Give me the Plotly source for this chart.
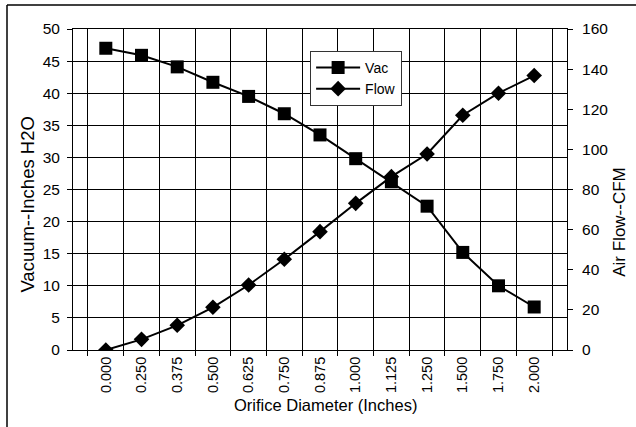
import plotly.graph_objects as go

diameters = ["0.000", "0.250", "0.375", "0.500", "0.625", "0.750", "0.875",
             "1.000", "1.125", "1.250", "1.500", "1.750", "2.000"]
vac = [47.0, 45.9, 44.1, 41.7, 39.5, 36.8, 33.5, 29.8, 26.2, 22.4, 15.2, 10.0, 6.7]
flow = [0.0, 5.3, 12.3, 21.3, 32.4, 45.2, 59.0, 73.1, 86.4, 97.7, 117.0, 128.0, 136.8]

FAM = "Liberation Sans, Arial, sans-serif"
font = dict(family=FAM, size=15, color="black")

fig = go.Figure()
fig.add_trace(go.Scatter(
    x=diameters, y=vac, name="Vac", mode="lines+markers",
    line=dict(color="black", width=2),
    marker=dict(symbol="square", size=13, color="black"),
    yaxis="y"))
fig.add_trace(go.Scatter(
    x=diameters, y=flow, name="Flow", mode="lines+markers",
    line=dict(color="black", width=2),
    marker=dict(symbol="diamond", size=12, color="black"),
    yaxis="y2"))

fig.update_layout(
    width=636, height=427,
    margin=dict(l=73, r=69, t=29, b=77),
    paper_bgcolor="white", plot_bgcolor="white",
    font=font,
    showlegend=True,
    legend=dict(x=0.48, y=0.932, xanchor="left", yanchor="top",
                bgcolor="white", bordercolor="#333333", borderwidth=1,
                font=dict(family=FAM, size=14), tracegroupgap=0,
                itemwidth=44, entrywidth=72, entrywidthmode="pixels"),
    xaxis=dict(type="category", tickson="boundaries", showgrid=True,
               gridcolor="black", gridwidth=1, ticks="outside", ticklen=5,
               tickcolor="black", showline=True, linecolor="black",
               mirror=True, tickangle=-90, tickfont=dict(size=14.5)),
    yaxis=dict(range=[0, 50], dtick=5, showgrid=True, gridcolor="black",
               gridwidth=1, ticks="outside", ticklen=5, tickcolor="black",
               showline=True, linecolor="black", zeroline=False,
               tickfont=dict(size=15.5), ticklabelstandoff=4),
    yaxis2=dict(range=[0, 160], dtick=20, overlaying="y", side="right",
                showgrid=False, ticks="outside", ticklen=5, tickcolor="black",
                showline=True, linecolor="black", zeroline=False,
                tickfont=dict(size=15.5), ticklabelstandoff=6),
    annotations=[
        dict(text="Orifice Diameter (Inches)", xref="paper", yref="paper",
             x=0.511, y=-0.171, showarrow=False, xanchor="center",
             yanchor="middle", font=dict(family=FAM, size=16.5)),
        dict(text="Vacuum--Inches H2O", xref="paper", yref="paper",
             x=-0.0911, y=0.456, showarrow=False, textangle=-90,
             xanchor="center", yanchor="middle", font=dict(family=FAM, size=18.5)),
        dict(text="Air Flow--CFM", xref="paper", yref="paper",
             x=1.107, y=0.399, showarrow=False, textangle=-90,
             xanchor="center", yanchor="middle", font=dict(family=FAM, size=17)),
    ],
    shapes=[
        dict(type="line", xref="paper", yref="paper", x0=-0.1336, x1=-0.1336,
             y0=-0.4, y1=1.0748, line=dict(color="black", width=1.5)),
        dict(type="line", xref="paper", yref="paper", x0=-0.1336, x1=1.3,
             y0=1.0748, y1=1.0748, line=dict(color="black", width=1.5)),
    ],
)

fig.write_html(
    "out.html",
    config={"displayModeBar": False},
    post_script="document.body.style.margin='0';document.body.style.overflow='hidden';",
)
